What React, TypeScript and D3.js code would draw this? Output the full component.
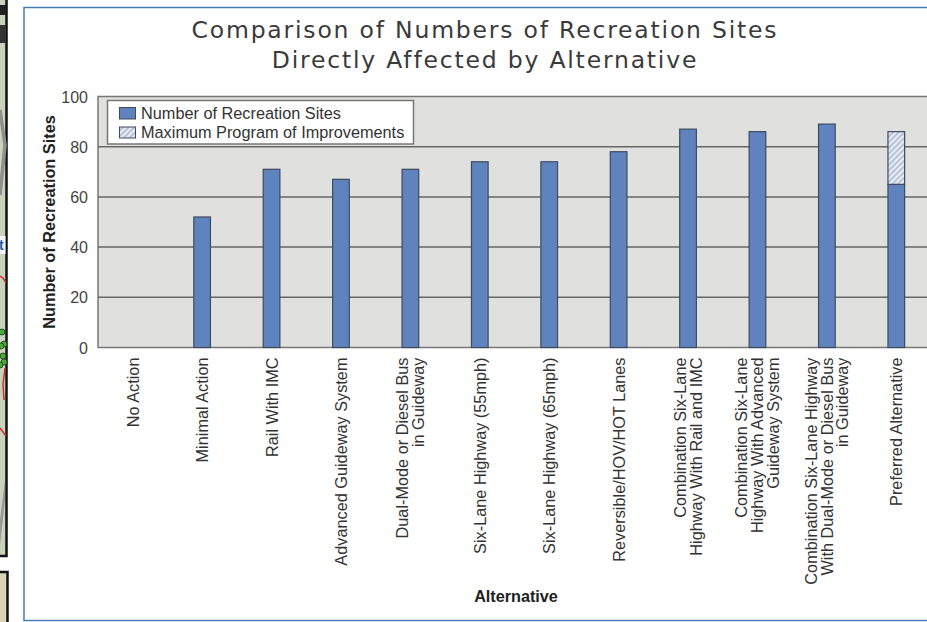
import React from 'react';
import * as d3 from 'd3';

const categories: string[][] = [
  ['No Action'],
  ['Minimal Action'],
  ['Rail With IMC'],
  ['Advanced Guideway System'],
  ['Dual-Mode or Diesel Bus', 'in Guideway'],
  ['Six-Lane Highway (55mph)'],
  ['Six-Lane Highway (65mph)'],
  ['Reversible/HOV/HOT Lanes'],
  ['Combination Six-Lane', 'Highway With Rail and IMC'],
  ['Combination Six-Lane', 'Highway With Advanced', 'Guideway System'],
  ['Combination Six-Lane Highway', 'With Dual-Mode or Diesel Bus', 'in Guideway'],
  ['Preferred Alternative'],
];
const sites = [0, 52, 71, 67, 71, 74, 74, 78, 87, 86, 89, 65];
const maxProgram = [0, 0, 0, 0, 0, 0, 0, 0, 0, 0, 0, 21];
const yTicks = [0, 20, 40, 60, 80, 100];
const titleLines = ['Comparison of Numbers of Recreation Sites', 'Directly Affected by Alternative'];
const legendItems = ['Number of Recreation Sites', 'Maximum Program of Improvements'];
const stripDots = [[2, 332], [4, 344], [1, 346], [3, 356], [4, 362], [0, 365]];
const stripRed = ['M6 283 L3 278 L0 276', 'M5 368 L3 384 L4 400', 'M0 428 L6 436'];

const font = 'Liberation Sans, Arial, sans-serif';
const x = d3.scaleBand<number>().domain(d3.range(12)).range([98, 931]).paddingInner(0.76).paddingOuter(0.38);
const y = d3.scaleLinear().domain([0, 100]).range([347.5, 96.5]);
const barFill = '#5f84bd';
const barStroke = '#3d4a60';

export default function App() {
  return (
    <svg width={927} height={622} style={{ position: 'fixed', left: 0, top: 0, background: '#fff' }}>
      <defs>
        <pattern id="hatch" width={4} height={4} patternUnits="userSpaceOnUse" patternTransform="rotate(-45)">
          <rect width={4} height={4} fill="#e8ecf4" />
          <line x1={0} x2={4} y1={1} y2={1} stroke="#9aa6bf" strokeWidth={1.2} />
        </pattern>
      </defs>
      {/* neighbouring page fragments */}
      <rect x={-4} y={-4} width={10.5} height={560} fill="#c9d2bb" stroke="#111" strokeWidth={2.5} />
      <rect x={0} y={5} width={6} height={10} fill="#222" />
      <rect x={0} y={25} width={6} height={18} fill="#333" />
      <path d="M0 110 L5 145 L3 165 L0 195" fill="none" stroke="#8f8f8d" strokeWidth={3.5} />
      <rect x={0} y={236} width={5.5} height={18} fill="#f4f6fa" />
      <text x={-1} y={250} fontFamily={font} fontSize={14} fontWeight="bold" fill="#2a5a9a">t</text>
      {stripRed.map(d => <path key={d} d={d} fill="none" stroke="#c8322c" strokeWidth={1.5} />)}
      {stripDots.map(([cx, cy]) => <circle key={cy} cx={cx} cy={cy} r={3} fill="#4aa83c" stroke="#1c3a18" strokeWidth={0.8} />)}
      <path d="M5 480 L0 520 L0 545 L5 500 Z" fill="#999" />
      <rect x={-4} y={572} width={11.5} height={60} fill="#d9d2b8" stroke="#111" strokeWidth={2.5} />
      {/* frame */}
      <rect x={24} y={7.5} width={920} height={613} fill="#fff" stroke="#4a7db5" strokeWidth={1.5} />
      {/* title */}
      {titleLines.map((t, i) => (
        <text key={t} x={485} y={38 + i * 29.5} textAnchor="middle" fontFamily="'DejaVu Sans', sans-serif" fontSize={23.5} letterSpacing={1.8} fill="#3a3a3a">{t}</text>
      ))}
      {/* plot */}
      <rect x={98} y={96.5} width={840} height={251} fill="#e0e0de" stroke="#777" strokeWidth={1.5} />
      {yTicks.filter(t => t > 0 && t < 100).map(t => (
        <line key={t} x1={98} x2={927} y1={y(t)} y2={y(t)} stroke="#666" strokeWidth={1.5} />
      ))}
      {yTicks.map(t => (
        <text key={t} x={88} y={y(t) + 6} textAnchor="end" fontFamily={font} fontSize={16} fill="#444">{t}</text>
      ))}
      <text transform="translate(54.5,222) rotate(-90)" textAnchor="middle" fontFamily={font} fontSize={16.3} fontWeight="bold" fill="#222">Number of Recreation Sites</text>
      {/* bars */}
      {sites.map((v, i) => v > 0 && (
        <rect key={i} x={x(i)} y={y(v)} width={x.bandwidth()} height={y(0) - y(v)} fill={barFill} stroke={barStroke} strokeWidth={1.2} />
      ))}
      {maxProgram.map((v, i) => v > 0 && (
        <rect key={i} x={x(i)} y={y(sites[i] + v)} width={x.bandwidth()} height={y(sites[i]) - y(sites[i] + v)} fill="url(#hatch)" stroke={barStroke} strokeWidth={1.2} />
      ))}
      {/* category labels */}
      {categories.map((lines, i) => {
        const cx = x(i)! + x.bandwidth() / 2;
        const first = cx + 6 - (lines.length - 1) * 8;
        return lines.map((l, j) => (
          <text key={l} transform={`translate(${first + j * 15.8},357.5) rotate(-90)`} textAnchor="end" fontFamily={font} fontSize={16.3} fill="#333">{l}</text>
        ));
      })}
      <text x={516} y={602} textAnchor="middle" fontFamily={font} fontSize={16.2} fontWeight="bold" fill="#222">Alternative</text>
      {/* legend */}
      <rect x={107.5} y={100.5} width={306} height={43.5} fill="#fff" stroke="#777" strokeWidth={1.5} />
      <rect x={119.5} y={107.5} width={16} height={11.5} fill={barFill} stroke={barStroke} />
      <rect x={119.5} y={127} width={16} height={11} fill="url(#hatch)" stroke={barStroke} />
      {legendItems.map((t, i) => (
        <text key={t} x={141} y={119 + i * 18.5} fontFamily={font} fontSize={16.3} fill="#333">{t}</text>
      ))}
    </svg>
  );
}
